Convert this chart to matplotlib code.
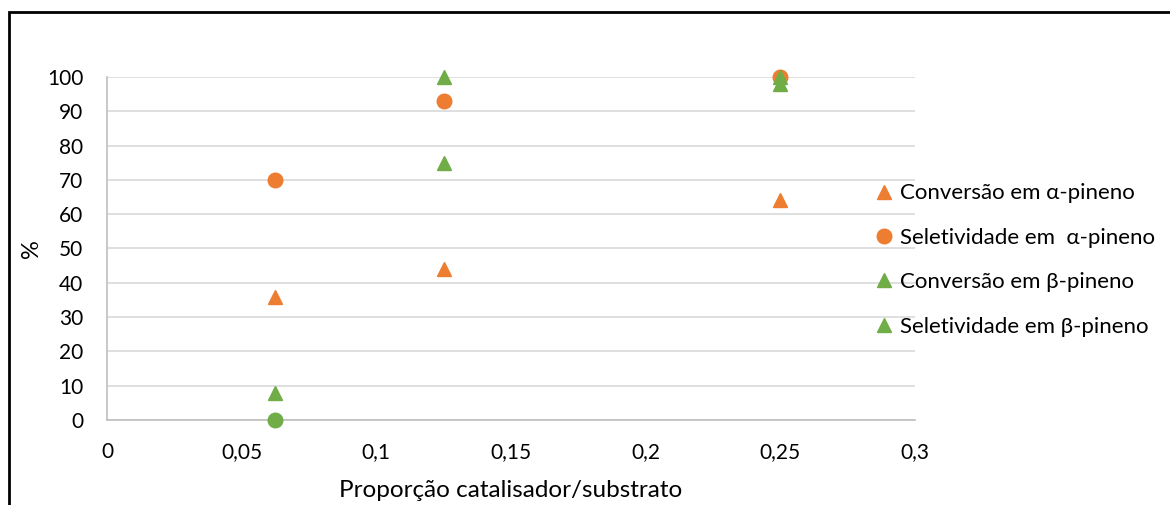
import numpy as np
import matplotlib.pyplot as plt
from matplotlib.lines import Line2D
from matplotlib.patches import Rectangle
from matplotlib.ticker import FuncFormatter, MultipleLocator

plt.rcParams['font.family'] = ['Lato', 'DejaVu Sans']

# dados: proporção catalisador/substrato e resultados (%)
proporcao = [0.0625, 0.125, 0.25]
conv_alfa = [36, 44, 64]
sel_alfa = [70, 93, 100]
conv_beta = [8, 75, 100]
sel_beta = [0, 100, 98]
marcadores_sel_beta = ['o', '^', '^']

nomes = [
    'Conversão em α-pineno',
    'Seletividade em  α-pineno',
    'Conversão em β-pineno',
    'Seletividade em β-pineno',
]

laranja = '#ED7D31'
verde = '#70AD47'

fig = plt.figure(figsize=(11.7, 5.05), dpi=100)
ax = fig.add_axes([107 / 1170, 1 - 420 / 505, (915 - 107) / 1170, (420 - 77) / 505])

ms = 10.5
ax.plot(proporcao, conv_alfa, '^', color=laranja, ms=ms, ls='none', clip_on=False, zorder=3)
ax.plot(proporcao, sel_alfa, 'o', color=laranja, ms=ms, ls='none', clip_on=False, zorder=3)
ax.plot(proporcao, conv_beta, '^', color=verde, ms=ms, ls='none', clip_on=False, zorder=4)
for x, y, m in zip(proporcao, sel_beta, marcadores_sel_beta):
    ax.plot(x, y, m, color=verde, ms=ms, ls='none', clip_on=False, zorder=4)

ax.set_xlim(0, 0.3)
ax.set_ylim(0, 100)
ax.xaxis.set_major_locator(MultipleLocator(0.05))
ax.yaxis.set_major_locator(MultipleLocator(10))
ax.xaxis.set_major_formatter(FuncFormatter(lambda v, p: f'{v:g}'.replace('.', ',')))
ax.yaxis.set_major_formatter(FuncFormatter(lambda v, p: f'{v:g}'))

ax.grid(axis='y', color='#D9D9D9', lw=1.2, zorder=0)
ax.set_axisbelow(True)
for lado in ['top', 'right']:
    ax.spines[lado].set_visible(False)
for lado in ['left', 'bottom']:
    ax.spines[lado].set_color('#BFBFBF')
    ax.spines[lado].set_linewidth(1.2)
ax.tick_params(length=0, labelsize=15, colors='black')
ax.tick_params(axis='x', pad=16)
ax.tick_params(axis='y', pad=17)

ax.set_xlabel('Proporção catalisador/substrato', fontsize=17.5)
ax.set_ylabel('%', fontsize=17)
ax.xaxis.set_label_coords(0.5, -0.175)
ax.yaxis.set_label_coords(-0.081, 0.5)

# legenda à direita
handles = [
    Line2D([], [], marker='^', color=laranja, ls='none', ms=ms),
    Line2D([], [], marker='o', color=laranja, ls='none', ms=ms),
    Line2D([], [], marker='^', color=verde, ls='none', ms=ms),
    Line2D([], [], marker='^', color=verde, ls='none', ms=ms),
]
fig.legend(handles, nomes, loc='center left', bbox_to_anchor=(864 / 1170, 1 - 260 / 505),
           frameon=False, fontsize=16, handlelength=0.8, handletextpad=0.3,
           labelspacing=1.1, borderpad=0)

# moldura
fig.add_artist(Rectangle((8.5 / 1170, -0.1), 1.2, 1.1 - 11.5 / 505,
                         transform=fig.transFigure, fill=False, ec='black', lw=2))

fig.savefig('out.png', dpi=100)
